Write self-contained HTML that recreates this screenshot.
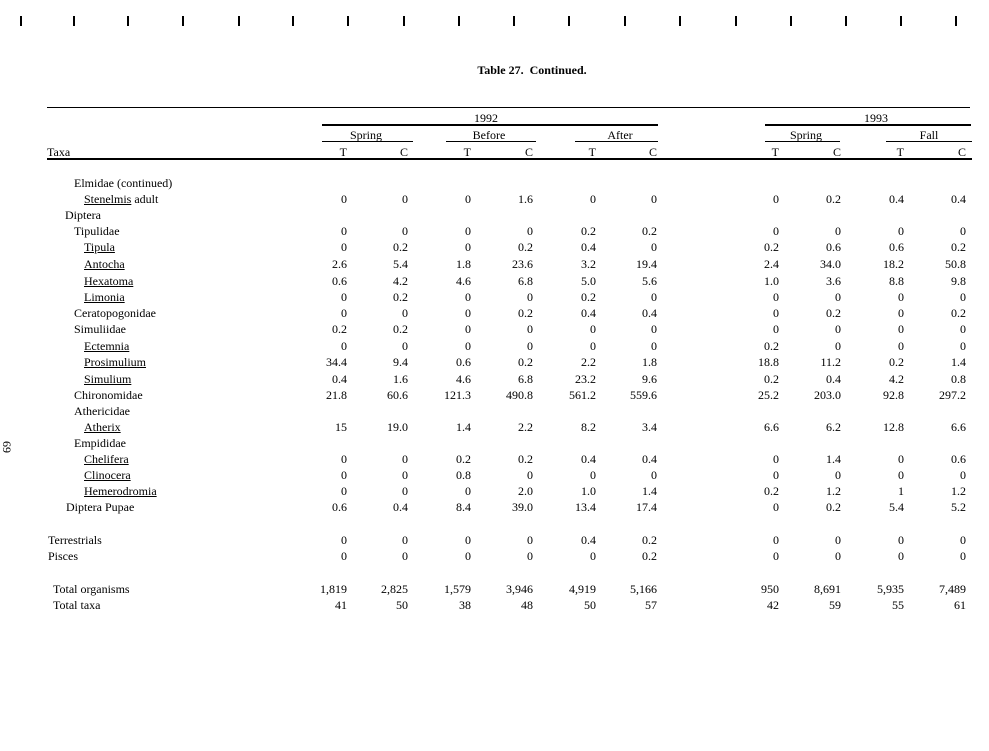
<!DOCTYPE html>
<html><head><meta charset="utf-8"><style>
body{margin:0;width:989px;height:751px;background:#fff;position:relative;overflow:hidden;font-family:"Liberation Serif",serif;font-size:12px;color:#000}
.r{position:absolute;left:0;width:989px;height:14px;line-height:14px}
.r span{position:absolute;top:0}
.l{white-space:nowrap}
.n{width:70px;text-align:right}
.a1{left:277px}.a2{left:338px}.a3{left:401px}.a4{left:463px}.a5{left:526px}.a6{left:587px}.a7{left:709px}.a8{left:771px}.a9{left:834px}.a10{left:896px}
.u{text-decoration:underline}
.h{position:absolute;background:#000}
.t{position:absolute;width:2px;height:10px;background:#000;top:16px}
.c{position:absolute;text-align:center;line-height:14px}
</style></head><body>
<div class="t" style="left:20px"></div><div class="t" style="left:73px"></div><div class="t" style="left:127px"></div><div class="t" style="left:182px"></div><div class="t" style="left:238px"></div><div class="t" style="left:292px"></div><div class="t" style="left:347px"></div><div class="t" style="left:403px"></div><div class="t" style="left:458px"></div><div class="t" style="left:513px"></div><div class="t" style="left:568px"></div><div class="t" style="left:624px"></div><div class="t" style="left:679px"></div><div class="t" style="left:735px"></div><div class="t" style="left:790px"></div><div class="t" style="left:845px"></div><div class="t" style="left:900px"></div><div class="t" style="left:955px"></div>
<div class="c" style="left:432px;top:63px;width:200px;font-weight:bold">Table 27.&nbsp; Continued.</div>
<div class="c" style="left:-5px;top:440px;width:24px;transform:rotate(90deg)">69</div>
<div class="h" style="left:47px;top:107px;width:923px;height:1px"></div>
<div class="h" style="left:322px;top:124px;width:336px;height:2px"></div>
<div class="h" style="left:765px;top:124px;width:206px;height:2px"></div>
<div class="h" style="left:322px;top:141px;width:91px;height:1px"></div>
<div class="h" style="left:446px;top:141px;width:90px;height:1px"></div>
<div class="h" style="left:575px;top:141px;width:83px;height:1px"></div>
<div class="h" style="left:765px;top:141px;width:75px;height:1px"></div>
<div class="h" style="left:886px;top:141px;width:86px;height:1px"></div>
<div class="h" style="left:47px;top:158px;width:925px;height:2px"></div>
<div class="c" style="left:436px;top:111px;width:100px">1992</div>
<div class="c" style="left:826px;top:111px;width:100px">1993</div>
<div class="c" style="left:326px;top:128px;width:80px">Spring</div>
<div class="c" style="left:449px;top:128px;width:80px">Before</div>
<div class="c" style="left:580px;top:128px;width:80px">After</div>
<div class="c" style="left:766px;top:128px;width:80px">Spring</div>
<div class="c" style="left:889px;top:128px;width:80px">Fall</div>
<div class="r" style="top:145px"><span class="l" style="left:47px">Taxa</span><span class="n a1">T</span><span class="n a2">C</span><span class="n a3">T</span><span class="n a4">C</span><span class="n a5">T</span><span class="n a6">C</span><span class="n a7">T</span><span class="n a8">C</span><span class="n a9">T</span><span class="n a10">C</span></div>

<div class="r" style="top:176px"><span class="l" style="left:74px">Elmidae (continued)</span></div>
<div class="r" style="top:192px"><span class="l" style="left:84px"><span class="u" style="position:static">Stenelmis</span> adult</span><span class="n a1">0</span><span class="n a2">0</span><span class="n a3">0</span><span class="n a4">1.6</span><span class="n a5">0</span><span class="n a6">0</span><span class="n a7">0</span><span class="n a8">0.2</span><span class="n a9">0.4</span><span class="n a10">0.4</span></div>
<div class="r" style="top:208px"><span class="l" style="left:65px">Diptera</span></div>
<div class="r" style="top:224px"><span class="l" style="left:74px">Tipulidae</span><span class="n a1">0</span><span class="n a2">0</span><span class="n a3">0</span><span class="n a4">0</span><span class="n a5">0.2</span><span class="n a6">0.2</span><span class="n a7">0</span><span class="n a8">0</span><span class="n a9">0</span><span class="n a10">0</span></div>
<div class="r" style="top:240px"><span class="l u" style="left:84px">Tipula</span><span class="n a1">0</span><span class="n a2">0.2</span><span class="n a3">0</span><span class="n a4">0.2</span><span class="n a5">0.4</span><span class="n a6">0</span><span class="n a7">0.2</span><span class="n a8">0.6</span><span class="n a9">0.6</span><span class="n a10">0.2</span></div>
<div class="r" style="top:257px"><span class="l u" style="left:84px">Antocha</span><span class="n a1">2.6</span><span class="n a2">5.4</span><span class="n a3">1.8</span><span class="n a4">23.6</span><span class="n a5">3.2</span><span class="n a6">19.4</span><span class="n a7">2.4</span><span class="n a8">34.0</span><span class="n a9">18.2</span><span class="n a10">50.8</span></div>
<div class="r" style="top:274px"><span class="l u" style="left:84px">Hexatoma</span><span class="n a1">0.6</span><span class="n a2">4.2</span><span class="n a3">4.6</span><span class="n a4">6.8</span><span class="n a5">5.0</span><span class="n a6">5.6</span><span class="n a7">1.0</span><span class="n a8">3.6</span><span class="n a9">8.8</span><span class="n a10">9.8</span></div>
<div class="r" style="top:290px"><span class="l u" style="left:84px">Limonia</span><span class="n a1">0</span><span class="n a2">0.2</span><span class="n a3">0</span><span class="n a4">0</span><span class="n a5">0.2</span><span class="n a6">0</span><span class="n a7">0</span><span class="n a8">0</span><span class="n a9">0</span><span class="n a10">0</span></div>
<div class="r" style="top:306px"><span class="l" style="left:74px">Ceratopogonidae</span><span class="n a1">0</span><span class="n a2">0</span><span class="n a3">0</span><span class="n a4">0.2</span><span class="n a5">0.4</span><span class="n a6">0.4</span><span class="n a7">0</span><span class="n a8">0.2</span><span class="n a9">0</span><span class="n a10">0.2</span></div>
<div class="r" style="top:322px"><span class="l" style="left:74px">Simuliidae</span><span class="n a1">0.2</span><span class="n a2">0.2</span><span class="n a3">0</span><span class="n a4">0</span><span class="n a5">0</span><span class="n a6">0</span><span class="n a7">0</span><span class="n a8">0</span><span class="n a9">0</span><span class="n a10">0</span></div>
<div class="r" style="top:339px"><span class="l u" style="left:84px">Ectemnia</span><span class="n a1">0</span><span class="n a2">0</span><span class="n a3">0</span><span class="n a4">0</span><span class="n a5">0</span><span class="n a6">0</span><span class="n a7">0.2</span><span class="n a8">0</span><span class="n a9">0</span><span class="n a10">0</span></div>
<div class="r" style="top:355px"><span class="l u" style="left:84px">Prosimulium</span><span class="n a1">34.4</span><span class="n a2">9.4</span><span class="n a3">0.6</span><span class="n a4">0.2</span><span class="n a5">2.2</span><span class="n a6">1.8</span><span class="n a7">18.8</span><span class="n a8">11.2</span><span class="n a9">0.2</span><span class="n a10">1.4</span></div>
<div class="r" style="top:372px"><span class="l u" style="left:84px">Simulium</span><span class="n a1">0.4</span><span class="n a2">1.6</span><span class="n a3">4.6</span><span class="n a4">6.8</span><span class="n a5">23.2</span><span class="n a6">9.6</span><span class="n a7">0.2</span><span class="n a8">0.4</span><span class="n a9">4.2</span><span class="n a10">0.8</span></div>
<div class="r" style="top:388px"><span class="l" style="left:74px">Chironomidae</span><span class="n a1">21.8</span><span class="n a2">60.6</span><span class="n a3">121.3</span><span class="n a4">490.8</span><span class="n a5">561.2</span><span class="n a6">559.6</span><span class="n a7">25.2</span><span class="n a8">203.0</span><span class="n a9">92.8</span><span class="n a10">297.2</span></div>
<div class="r" style="top:404px"><span class="l" style="left:74px">Athericidae</span></div>
<div class="r" style="top:420px"><span class="l u" style="left:84px">Atherix</span><span class="n a1">15</span><span class="n a2">19.0</span><span class="n a3">1.4</span><span class="n a4">2.2</span><span class="n a5">8.2</span><span class="n a6">3.4</span><span class="n a7">6.6</span><span class="n a8">6.2</span><span class="n a9">12.8</span><span class="n a10">6.6</span></div>
<div class="r" style="top:436px"><span class="l" style="left:74px">Empididae</span></div>
<div class="r" style="top:452px"><span class="l u" style="left:84px">Chelifera</span><span class="n a1">0</span><span class="n a2">0</span><span class="n a3">0.2</span><span class="n a4">0.2</span><span class="n a5">0.4</span><span class="n a6">0.4</span><span class="n a7">0</span><span class="n a8">1.4</span><span class="n a9">0</span><span class="n a10">0.6</span></div>
<div class="r" style="top:468px"><span class="l u" style="left:84px">Clinocera</span><span class="n a1">0</span><span class="n a2">0</span><span class="n a3">0.8</span><span class="n a4">0</span><span class="n a5">0</span><span class="n a6">0</span><span class="n a7">0</span><span class="n a8">0</span><span class="n a9">0</span><span class="n a10">0</span></div>
<div class="r" style="top:484px"><span class="l u" style="left:84px">Hemerodromia</span><span class="n a1">0</span><span class="n a2">0</span><span class="n a3">0</span><span class="n a4">2.0</span><span class="n a5">1.0</span><span class="n a6">1.4</span><span class="n a7">0.2</span><span class="n a8">1.2</span><span class="n a9">1</span><span class="n a10">1.2</span></div>
<div class="r" style="top:500px"><span class="l" style="left:66px">Diptera Pupae</span><span class="n a1">0.6</span><span class="n a2">0.4</span><span class="n a3">8.4</span><span class="n a4">39.0</span><span class="n a5">13.4</span><span class="n a6">17.4</span><span class="n a7">0</span><span class="n a8">0.2</span><span class="n a9">5.4</span><span class="n a10">5.2</span></div>
<div class="r" style="top:533px"><span class="l" style="left:48px">Terrestrials</span><span class="n a1">0</span><span class="n a2">0</span><span class="n a3">0</span><span class="n a4">0</span><span class="n a5">0.4</span><span class="n a6">0.2</span><span class="n a7">0</span><span class="n a8">0</span><span class="n a9">0</span><span class="n a10">0</span></div>
<div class="r" style="top:549px"><span class="l" style="left:48px">Pisces</span><span class="n a1">0</span><span class="n a2">0</span><span class="n a3">0</span><span class="n a4">0</span><span class="n a5">0</span><span class="n a6">0.2</span><span class="n a7">0</span><span class="n a8">0</span><span class="n a9">0</span><span class="n a10">0</span></div>
<div class="r" style="top:582px"><span class="l" style="left:53px">Total organisms</span><span class="n a1">1,819</span><span class="n a2">2,825</span><span class="n a3">1,579</span><span class="n a4">3,946</span><span class="n a5">4,919</span><span class="n a6">5,166</span><span class="n a7">950</span><span class="n a8">8,691</span><span class="n a9">5,935</span><span class="n a10">7,489</span></div>
<div class="r" style="top:598px"><span class="l" style="left:53px">Total taxa</span><span class="n a1">41</span><span class="n a2">50</span><span class="n a3">38</span><span class="n a4">48</span><span class="n a5">50</span><span class="n a6">57</span><span class="n a7">42</span><span class="n a8">59</span><span class="n a9">55</span><span class="n a10">61</span></div>
</body></html>
